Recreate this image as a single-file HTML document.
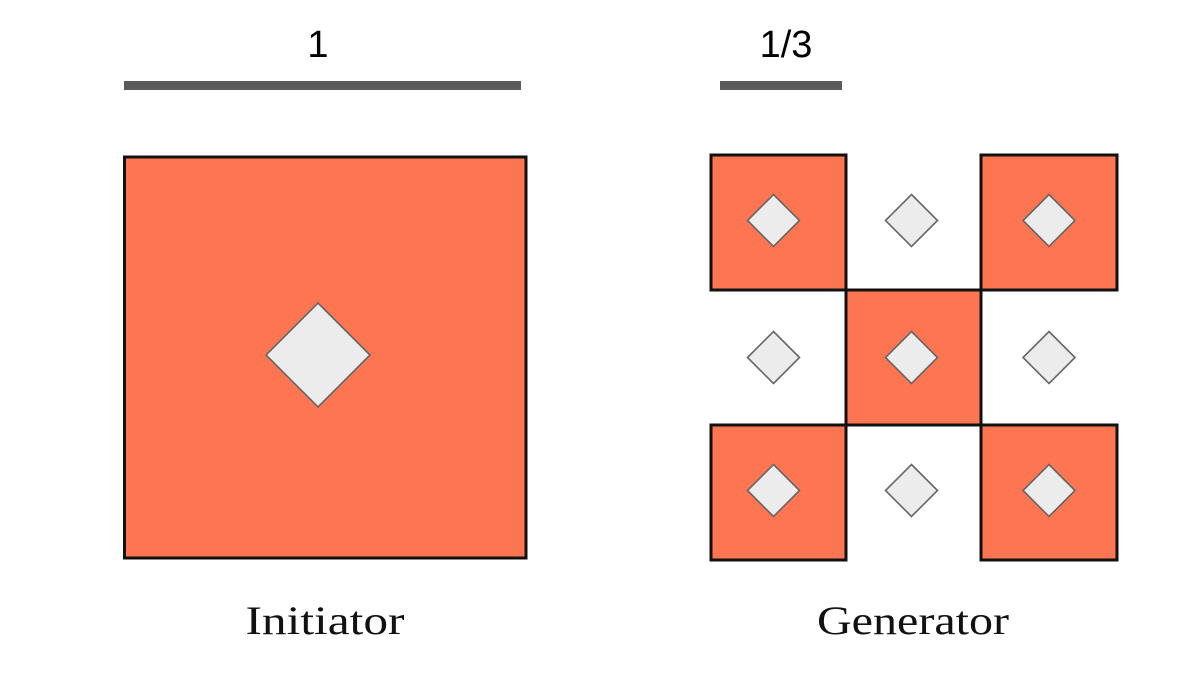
<!DOCTYPE html>
<html><head><meta charset="utf-8"><style>
html,body{margin:0;padding:0;background:#fff;width:1200px;height:674px;overflow:hidden}
</style></head><body>
<svg width="1200" height="674" viewBox="0 0 1200 674">
<g>
<text x="318" y="57" text-anchor="middle" font-family="Liberation Sans, sans-serif" font-size="38" fill="#000">1</text>
<rect x="124" y="81" width="397" height="9" fill="#5b5b5b"/>
</g>
<g>
<text x="786" y="57" text-anchor="middle" font-family="Liberation Sans, sans-serif" font-size="38" fill="#000">1/3</text>
<rect x="720" y="81" width="122" height="9" fill="#5b5b5b"/>
</g>
<g>
<rect x="124.5" y="157" width="401.5" height="401" fill="#fe7651" stroke="#111" stroke-width="3"/>
<polygon points="318,303 370,355 318,407 266,355" fill="#ececec" stroke="#666" stroke-width="1.6"/>
</g>
<g id="gen"></g>
<text x="325" y="634" text-anchor="middle" font-family="Liberation Serif, serif" font-size="40" textLength="159" lengthAdjust="spacingAndGlyphs" fill="#111">Initiator</text>
<text x="913" y="634" text-anchor="middle" font-family="Liberation Serif, serif" font-size="40" textLength="192" lengthAdjust="spacingAndGlyphs" fill="#111">Generator</text>
</svg>
<script>
const cellX=[711,846,981,1117];
const cellY=[155,290,425,560];
const filled=[[1,0,1],[0,1,0],[1,0,1]];
const g=document.getElementById('gen');
const ns='http://www.w3.org/2000/svg';
for(let r=0;r<3;r++)for(let c=0;c<3;c++){
  if(filled[r][c]){
    const rc=document.createElementNS(ns,'rect');
    rc.setAttribute('x',cellX[c]);rc.setAttribute('y',cellY[r]);
    rc.setAttribute('width',cellX[c+1]-cellX[c]);rc.setAttribute('height',cellY[r+1]-cellY[r]);
    rc.setAttribute('fill','#fe7651');rc.setAttribute('stroke','#111');rc.setAttribute('stroke-width','3');
    
    
    g.appendChild(rc);
  }
}
for(let r=0;r<3;r++)for(let c=0;c<3;c++){
  const cx=(cellX[c]+cellX[c+1])/2+(c===0?-5:c===2?0:-2), cy=(cellY[r]+cellY[r+1])/2-(r===1?0:2), h=26;
  const p=document.createElementNS(ns,'polygon');
  p.setAttribute('points',`${cx},${cy-h} ${cx+h},${cy} ${cx},${cy+h} ${cx-h},${cy}`);
  p.setAttribute('fill','#ececec');p.setAttribute('stroke','#666');p.setAttribute('stroke-width','1.6');
  
  
  g.appendChild(p);
}
</script>
</body></html>
